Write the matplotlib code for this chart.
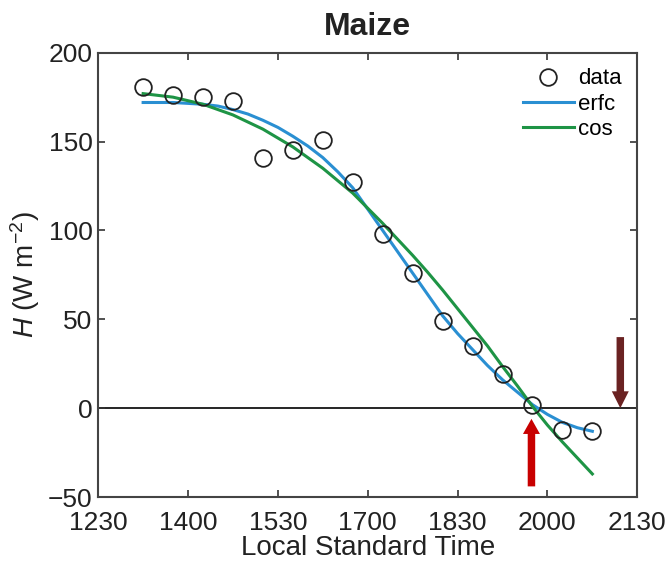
import matplotlib
matplotlib.use("Agg")
import matplotlib.pyplot as plt

plt.rcParams["font.family"] = ["Liberation Sans", "DejaVu Sans"]
plt.rcParams["mathtext.fontset"] = "custom"
plt.rcParams["mathtext.rm"] = "Liberation Sans"
plt.rcParams["mathtext.it"] = "Liberation Sans:italic"

# times in minutes since midnight
obs_time = [795, 825, 855, 885, 915, 945, 975, 1005, 1035, 1065, 1095, 1125, 1155, 1185, 1215, 1245]
obs_H = [181, 176, 175, 173, 141, 145, 151, 127, 98, 76, 49, 35, 19, 2, -12, -13]

fit_time = [795, 810, 825, 840, 855, 870, 885, 900, 915, 930, 945, 960, 975, 990, 1005, 1020,
            1035, 1050, 1065, 1080, 1095, 1110, 1125, 1140, 1155, 1170, 1185, 1200, 1215, 1230, 1245]
erfc_H = [172, 172, 172, 171.5, 171, 170, 168, 165.5, 162, 158, 153, 147.5, 141, 133, 124, 112,
          100, 88, 76, 64, 52, 42, 33, 24, 16, 9, 2, -3.5, -8, -11, -13]
cos_H = [177, 176, 175, 173, 171, 168, 165, 161, 157, 152, 147, 141, 135, 128, 121, 112.5,
         104, 95, 86, 76.5, 66.5, 56, 45.5, 35, 23.5, 12.5, 1, -9.5, -19, -28, -37]

xtick_pos = [750, 840, 930, 1020, 1110, 1200, 1290]
xtick_labels = ["1230", "1400", "1530", "1700", "1830", "2000", "2130"]

# arrow markers: (time, tail H, tip H)
red_arrow = (1184, -44, -6)
brown_arrow = (1273, 40, 0)

fig = plt.figure(figsize=(6.68, 5.61), dpi=100)
ax = fig.add_axes([0.147, 0.114, 0.807, 0.792])

ax.axhline(0, color="black", lw=1.2, zorder=1)
ax.plot(obs_time, obs_H, "o", mfc="none", mec="#222222", ms=12, mew=1.3, label="data", zorder=4)
ax.plot(fit_time, erfc_H, color="#2a8fd2", lw=2.2, label="erfc", zorder=3)
ax.plot(fit_time, cos_H, color="#1e9445", lw=2.2, label="cos", zorder=3)

for (t, tail, tip), col, hl in [(red_arrow, "#c80000", 8.5), (brown_arrow, "#6a2222", 9.5)]:
    ax.arrow(t, tail, 0, tip - tail, width=7.5, head_width=17, head_length=hl,
             length_includes_head=True, color=col, ec="none", zorder=5)

ax.set_xlim(750, 1290)
ax.set_ylim(-50, 200)
ax.set_xticks(xtick_pos)
ax.set_xticklabels(xtick_labels)
ax.set_yticks([-50, 0, 50, 100, 150, 200])
ax.tick_params(direction="in", length=5, width=1.2, top=True, right=True,
               labelsize=19, colors="#333333", labelcolor="#222222", pad=4)
ax.tick_params(axis="x", pad=10)
for s in ax.spines.values():
    s.set_color("#444444")
    s.set_linewidth(1.5)

ax.set_xlabel("Local Standard Time", fontsize=20, color="#222222", labelpad=0)
ax.set_ylabel(r"$H$ (W m$^{-2}$)", fontsize=20, color="#222222", labelpad=4)
ax.set_title("Maize", fontsize=23, fontweight="bold", color="#222222", pad=13)

leg = ax.legend(loc="upper right", frameon=False, fontsize=16, handlelength=2.3,
                handletextpad=0.2, labelspacing=0.2, borderaxespad=0.3,
                markerfirst=True)

fig.savefig("out.png", dpi=100)
